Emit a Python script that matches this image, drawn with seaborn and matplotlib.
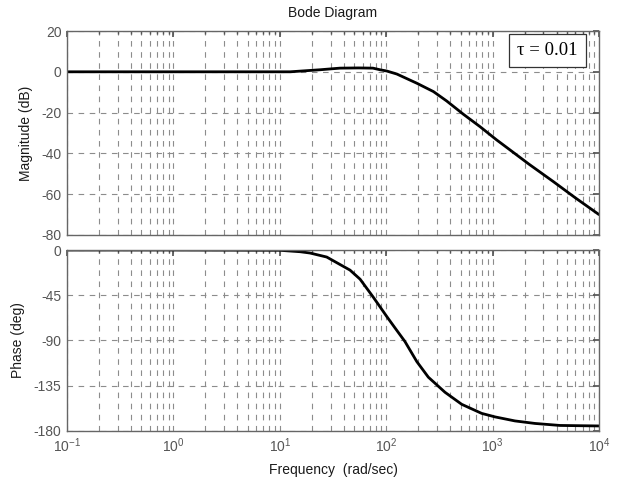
import matplotlib

matplotlib.use("Agg")
import matplotlib.pyplot as plt
import numpy as np
import pandas as pd
import seaborn as sns
from matplotlib.ticker import LogLocator, NullFormatter

# ------------------------------------------------------
# Datos leídos del diagrama de Bode
# ------------------------------------------------------
mag_freq = [0.1, 1, 10, 12.5, 23.9, 36.8, 55, 75, 87.5, 101, 126, 194, 278,
            370, 531, 762, 1092, 1458, 2200, 3716, 6000, 10000]
mag_db = [0, 0, 0, 0, 1.0, 1.8, 1.9, 1.8, 1.0, 0.4, -1.1, -5.6, -9.7,
          -14.3, -20.8, -26.9, -33.4, -38.3, -45.3, -53.8, -61.8, -70]

phase_freq = [0.1, 1, 10, 15.5, 19.2, 27.6, 45.7, 56.8, 75.7, 101, 121, 150,
              194, 249, 357, 513, 790, 1055, 1623, 2500, 4296, 10000]
phase_deg = [0, 0, -0.3, -1.7, -3, -7, -20, -29, -47, -66, -77.5, -91,
             -111, -126.5, -141.5, -153.5, -162.5, -166, -170, -172.5, -174.5, -175]

mag_ticks = [20, 0, -20, -40, -60, -80]
phase_ticks = [0, -45, -90, -135, -180]
freq_range = (0.1, 10000)

tau_label = "τ = 0.01"
GRAY = "#555555"
LABEL = "#1a1a1a"


def style_axis(ax):
    ax.set_xscale("log")
    ax.set_xlim(*freq_range)
    ax.xaxis.set_major_locator(LogLocator(base=10, numticks=10))
    ax.xaxis.set_minor_locator(LogLocator(base=10, subs=np.arange(2, 10), numticks=20))
    ax.xaxis.set_minor_formatter(NullFormatter())
    ax.grid(True, which="both", axis="x", color="#8c8c8c", linestyle=(0, (5, 5)),
            linewidth=0.8)
    ax.grid(True, which="major", axis="y", color="#8c8c8c", linestyle=(0, (5, 5)),
            linewidth=0.8)
    ax.tick_params(which="both", direction="in", colors=GRAY, labelsize=10,
                   top=True, right=True)
    ax.tick_params(which="major", length=4, pad=4)
    ax.tick_params(which="minor", length=2)
    for sp in ax.spines.values():
        sp.set_color("#666666")
        sp.set_linewidth(1.0)


def main():
    sns.set_theme(style="white")
    plt.rcParams["font.family"] = ["Liberation Sans", "DejaVu Sans"]
    plt.rcParams["axes.unicode_minus"] = False

    df_mag = pd.DataFrame({"freq": mag_freq, "mag": mag_db})
    df_phase = pd.DataFrame({"freq": phase_freq, "phase": phase_deg})

    fig = plt.figure(figsize=(6.17, 4.83), dpi=100)
    ax1 = fig.add_axes([0.1086, 0.5135, 0.8622, 0.4223])
    ax2 = fig.add_axes([0.1086, 0.1077, 0.8622, 0.3747])

    sns.lineplot(data=df_mag, x="freq", y="mag", ax=ax1, color="black",
                 linewidth=2)
    sns.lineplot(data=df_phase, x="freq", y="phase", ax=ax2, color="black",
                 linewidth=2)

    style_axis(ax1)
    style_axis(ax2)

    ax1.set_ylim(min(mag_ticks), max(mag_ticks))
    ax1.set_yticks(mag_ticks)
    ax1.xaxis.set_major_formatter(NullFormatter())
    ax1.set_xlabel("")
    ax1.set_ylabel("Magnitude (dB)", fontsize=10, color=LABEL, labelpad=6)
    ax1.set_title("Bode Diagram", fontsize=10, color=LABEL, pad=10)

    ax2.set_ylim(min(phase_ticks), max(phase_ticks))
    ax2.set_yticks(phase_ticks)
    ax2.set_xlabel("Frequency  (rad/sec)", fontsize=10, color=LABEL, labelpad=6)
    ax2.set_ylabel("Phase (deg)", fontsize=10, color=LABEL, labelpad=6)

    ax1.text(0.96, 0.905, tau_label, transform=ax1.transAxes, ha="right",
             va="center", fontsize=13.5, family=["Liberation Serif", "DejaVu Serif"],
             color="black",
             bbox=dict(boxstyle="square,pad=0.42", facecolor="white",
                       edgecolor="#333333", linewidth=0.9))

    fig.savefig("out.png", dpi=100)
    plt.close(fig)


if __name__ == "__main__":
    main()
